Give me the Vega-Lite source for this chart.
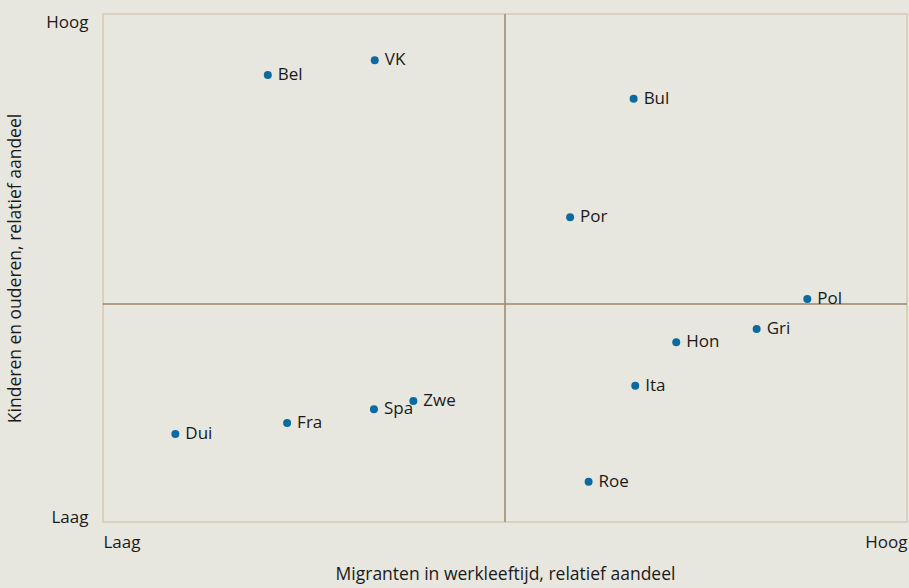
{
  "$schema": "https://vega.github.io/schema/vega-lite/v6.json",
  "width": 804,
  "height": 508,
  "autosize": {"type": "none"},
  "padding": {"left": 103, "top": 14, "right": 2, "bottom": 66},
  "background": "#e8e7df",
  "config": {
    "font": "Open Sans",
    "view": {"stroke": "#d4c9b3", "strokeWidth": 1.5, "fill": "#e8e7df"},
    "axis": {"domain": false, "ticks": false, "grid": false, "labelFont": "Open Sans", "titleFont": "Open Sans", "labelColor": "#1a1a1a", "titleColor": "#1a1a1a", "labelFontSize": 17, "titleFontSize": 17.5, "titleFontWeight": "normal"}
  },
  "data": {"values": [
    {"land": "Bel", "x": 20.5, "y": 88.0},
    {"land": "VK", "x": 33.8, "y": 90.9},
    {"land": "Bul", "x": 66.0, "y": 83.3},
    {"land": "Por", "x": 58.1, "y": 60.0},
    {"land": "Pol", "x": 87.6, "y": 43.9},
    {"land": "Gri", "x": 81.3, "y": 38.0},
    {"land": "Hon", "x": 71.3, "y": 35.4},
    {"land": "Ita", "x": 66.2, "y": 26.8},
    {"land": "Roe", "x": 60.4, "y": 7.9},
    {"land": "Zwe", "x": 38.6, "y": 23.8},
    {"land": "Spa", "x": 33.7, "y": 22.2},
    {"land": "Fra", "x": 22.9, "y": 19.5},
    {"land": "Dui", "x": 9.0, "y": 17.3}
  ]},
  "layer": [
    {
      "data": {"values": [{"v": 50}]},
      "mark": {"type": "rule", "color": "#9c8468", "strokeWidth": 1.5},
      "encoding": {"x": {"field": "v", "type": "quantitative", "scale": {"domain": [0, 100]}}}
    },
    {
      "data": {"values": [{"v": 42.9}]},
      "mark": {"type": "rule", "color": "#9c8468", "strokeWidth": 1.5},
      "encoding": {"y": {"field": "v", "type": "quantitative", "scale": {"domain": [0, 100]}}}
    },
    {
      "mark": {"type": "circle", "size": 64, "color": "#0b6aa0", "opacity": 1},
      "encoding": {
        "x": {"field": "x", "type": "quantitative", "scale": {"domain": [0, 100]},
          "axis": {"values": [0, 100], "labelExpr": "datum.value == 0 ? 'Laag' : 'Hoog'", "labelFlush": true, "labelPadding": 12, "titlePadding": 15, "title": "Migranten in werkleeftijd, relatief aandeel"}},
        "y": {"field": "y", "type": "quantitative", "scale": {"domain": [0, 100]},
          "axis": {"values": [0, 100], "labelExpr": "datum.value == 0 ? 'Laag' : 'Hoog'", "labelFlush": true, "labelBaseline": {"condition": {"test": "datum.value == 0", "value": "alphabetic"}, "value": "top"}, "labelPadding": 15, "titlePadding": 21, "title": "Kinderen en ouderen, relatief aandeel"}}
      }
    },
    {
      "mark": {"type": "text", "align": "left", "dx": 10, "baseline": "middle", "fontSize": 17, "color": "#1a1a1a", "font": "Open Sans"},
      "encoding": {
        "x": {"field": "x", "type": "quantitative"},
        "y": {"field": "y", "type": "quantitative"},
        "text": {"field": "land"}
      }
    }
  ]
}
